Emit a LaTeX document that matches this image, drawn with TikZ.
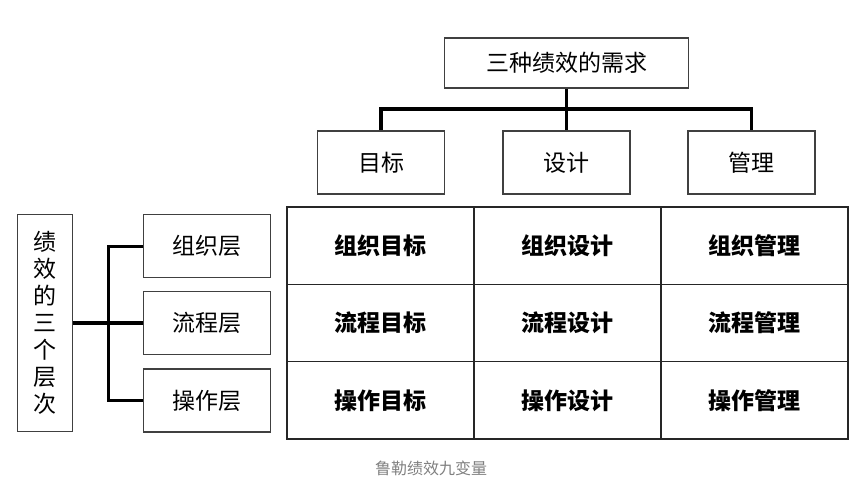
\documentclass[tikz,border=0pt]{standalone}
\usepackage{fontspec}
\newfontfamily\cjk{Noto Sans CJK SC}
\usepackage{tikz}
\usetikzlibrary{positioning}

\begin{document}
\begin{tikzpicture}[x=1pt,y=-1pt]
    \tikzstyle{box}=[draw=black!75,line width=1.1pt,inner sep=0pt,font=\cjk\fontsize{23}{27}\selectfont];
    \tikzstyle{need box}=[box,minimum width=127pt,minimum height=63pt];
    \tikzstyle{level box}=[box,minimum width=127pt,minimum height=63pt];
    \tikzstyle{cell}=[draw=black!85,line width=1.2pt,inner sep=0pt,minimum width=187pt,minimum height=77.3pt,font=\cjk\bfseries\fontsize{23}{27}\selectfont];
    \tikzstyle{link}=[line width=3.3pt,black];
    \tikzstyle{caption}=[font=\cjk\fontsize{16}{18}\selectfont,text=black!50];

    \useasboundingbox (0,0) rectangle (856,483);

    % Draw the top node and the three needs
    \node[box,minimum width=244pt,minimum height=50pt] (need) at (566.5,63) {三种绩效的需求};
    \node[need box] (goal) at (381,162.5) {目标};
    \node[need box] (design) at (566.5,162.5) {设计};
    \node[need box] (manage) at (751.5,162.5) {管理};

    % Draw the three levels
    \node[box,minimum width=55pt,minimum height=217pt,align=center] (levels) at (44.8,323)
      {绩\\效\\的\\三\\个\\层\\次};
    \node[level box] (org) at (207.3,246.3) {组织层};
    \node[level box] (proc) at (207.3,323) {流程层};
    \node[level box] (oper) at (207.3,400.5) {操作层};

    % Draw the nine cells of the grid
    \foreach \row / \rname [count=\r] in {org/组织,proc/流程,oper/操作}
    \foreach \col / \cname [count=\c] in {goal/目标,design/设计,manage/管理}
    \node[cell] (\row-\col) at (287+187*\c-93.5,207+77.33*\r-38.67) {\rname\cname};

    % Connect the top node with the needs
    \coordinate (bar) at (566.5,109);
    \draw[link] (need.south) -- (design.north);
    \draw[link] (goal.north) |- (bar) -| (manage.north);

    % Connect the levels node with every level
    \coordinate (hub) at (108.5,323);
    \draw[link] (levels.east) -- (proc.west);
    \draw[link] (org.west) -| (hub) |- (oper.west);

    % Annotate the picture
    \node[caption] (title) at (431,468) {鲁勒绩效九变量};
\end{tikzpicture}
\end{document}
